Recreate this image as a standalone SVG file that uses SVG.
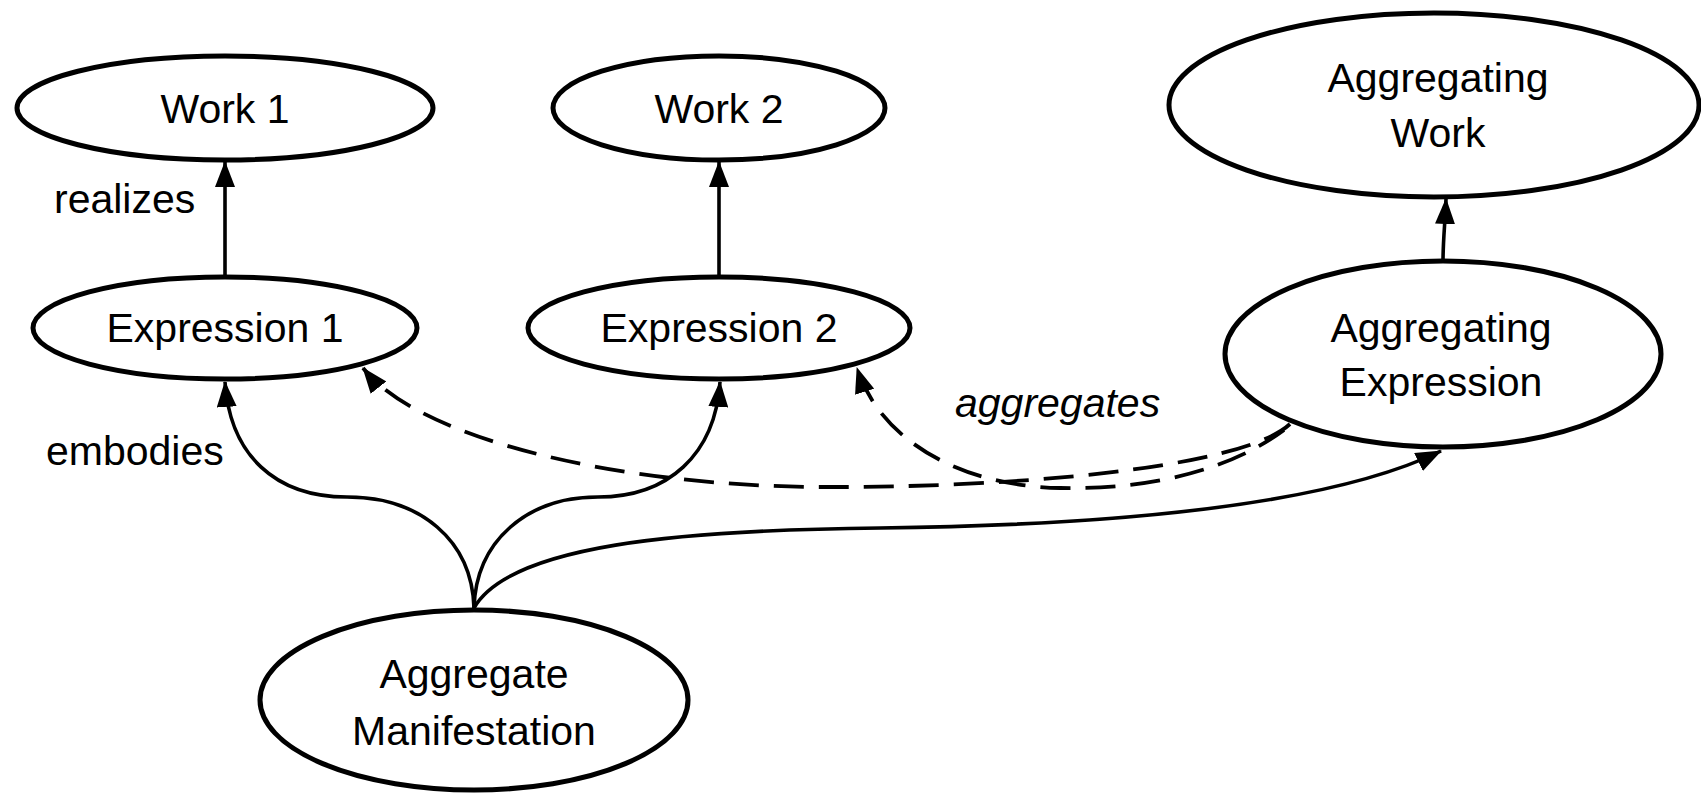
<svg xmlns="http://www.w3.org/2000/svg" width="1701" height="795" viewBox="0 0 1701 795">
<style>
.node ellipse{fill:#fff;stroke:#000;stroke-width:5}
.lbl{font-family:"Liberation Sans",Arial,sans-serif;font-size:41px;fill:#000;text-anchor:middle}
.elbl{font-family:"Liberation Sans",Arial,sans-serif;font-size:41px;fill:#000}
.edge{fill:none;stroke:#000;stroke-width:3.6;marker-end:url(#arr)}
.dash{stroke-dasharray:30 15;stroke-width:3.8}
</style>
<defs>
<marker id="arr" markerUnits="userSpaceOnUse" viewBox="0 0 26 20" markerWidth="26" markerHeight="20" refX="25" refY="10" orient="auto">
<path d="M0,0 L26,10 L0,20 Z" fill="#000" stroke="none"/>
</marker>
</defs>
<rect width="1701" height="795" fill="#fff"/>
<g id="connectors">
<path class="edge" d="M225,277 L225,162"/>
<path class="edge" d="M719,277 L719,162"/>
<path class="edge" d="M1443,262 C1443,240 1445,225 1446,199"/>
<path class="edge" d="M474,608 C472,540 420,497 347,497 C275,497 230,455 225,382"/>
<path class="edge" d="M474,608 C476,540 528,497 598,497 C668,497 715,455 720,382"/>
<path class="edge" d="M474,608 C510,545 680,530 880,528 C1120,525 1330,505 1441,451"/>
<path class="edge dash" d="M1290,424 C1240,470 1000,488 820,487 C620,486 420,440 363,368"/>
<path class="edge dash" d="M1284,430 C1230,470 1150,490 1060,488 C960,486 880,440 857,368"/>
</g>
<g id="work1" class="node"><ellipse cx="225" cy="108" rx="208" ry="52"/><text class="lbl" x="225" y="123">Work 1</text></g>
<g id="work2" class="node"><ellipse cx="719" cy="108" rx="166" ry="52"/><text class="lbl" x="719" y="123">Work 2</text></g>
<g id="expr1" class="node"><ellipse cx="225" cy="328" rx="192" ry="51"/><text class="lbl" x="225" y="342">Expression 1</text></g>
<g id="expr2" class="node"><ellipse cx="719" cy="328" rx="191" ry="51"/><text class="lbl" x="719" y="342">Expression 2</text></g>
<g id="aggwork" class="node"><ellipse cx="1434" cy="105" rx="265" ry="92"/><text class="lbl" x="1438" y="92">Aggregating</text><text class="lbl" x="1438" y="147">Work</text></g>
<g id="aggexpr" class="node"><ellipse cx="1443" cy="354" rx="218" ry="93"/><text class="lbl" x="1441" y="342">Aggregating</text><text class="lbl" x="1441" y="396">Expression</text></g>
<g id="aggman" class="node"><ellipse cx="474" cy="700" rx="214" ry="90"/><text class="lbl" x="474" y="688">Aggregate</text><text class="lbl" x="474" y="745">Manifestation</text></g>
<g id="edge-labels">
<text class="elbl" x="54" y="213">realizes</text>
<text class="elbl" x="46" y="465">embodies</text>
<text class="elbl" x="955" y="417" font-style="italic">aggregates</text>
</g>
</svg>
